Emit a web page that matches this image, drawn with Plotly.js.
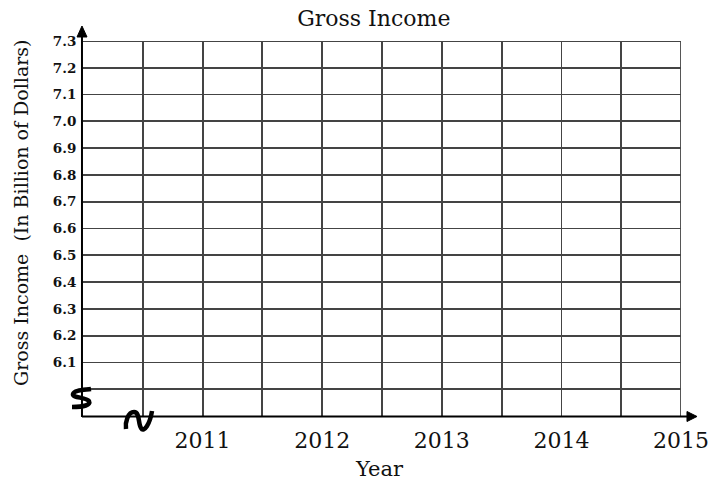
<!DOCTYPE html>
<html>
<head>
<meta charset="utf-8">
<script src="https://cdn.plot.ly/plotly-3.0.1.min.js"></script>
<style>html,body{margin:0;padding:0;background:#fff;}#chart{width:712px;height:485px;}</style>
</head>
<body>
<div id="chart"></div>
<script>
// ---- data ----
const yearStart = 2010;
const yearEnd = 2015;
const yearLabels = ['2011', '2012', '2013', '2014', '2015'];
const yearGridStep = 0.5;
const incomeMin = 5.9;
const incomeMax = 7.3;
const incomeGridStep = 0.1;
const incomeLabels = ['6.1', '6.2', '6.3', '6.4', '6.5', '6.6', '6.7', '6.8', '6.9', '7.0', '7.1', '7.2', '7.3'];

// ---- build tick arrays ----
const xVals = [], xText = [];
for (let i = 0; i <= Math.round((yearEnd - yearStart) / yearGridStep); i++) {
  const v = +(yearStart + i * yearGridStep).toFixed(2);
  xVals.push(v);
  const lbl = yearLabels.find(l => +l === v);
  xText.push(lbl ? lbl : '');
}
const yVals = [], yText = [];
for (let i = 1; i <= Math.round((incomeMax - incomeMin) / incomeGridStep); i++) {
  const v = +(incomeMin + i * incomeGridStep).toFixed(2);
  yVals.push(v);
  const lbl = incomeLabels.find(l => Math.abs(+l - v) < 1e-6);
  yText.push(lbl ? lbl : '');
}

const W = 712, H = 485, L = 83, R = 31, T = 41, B = 69;
const pw = W - L - R, ph = H - T - B;
function px(x) { return ((x - L) / pw).toFixed(4); }
function py(y) { return ((H - B - y) / ph).toFixed(4); }
function pathFromPixels(cmds) {
  return cmds.map(c => c[0] + (c.length > 1 ? ' ' + c.slice(1).reduce((a, v, i) => { a.push(i % 2 === 0 ? px(v) : py(v)); return a; }, []).join(',') : '')).join(' ');
}

const font = 'DejaVu Serif, Cambria, serif';
const gridColor = '#444';
const gridWidth = 1.8;
const textColor = '#111';

const shapes = [
  // top and right border gridlines (at range edges)
  {type: 'line', xref: 'paper', yref: 'y', x0: 0, x1: 1, y0: incomeMax, y1: incomeMax, line: {color: gridColor, width: gridWidth}},
  {type: 'line', xref: 'x', yref: 'paper', x0: yearEnd, x1: yearEnd, y0: 0, y1: 1, line: {color: gridColor, width: gridWidth}},
  // x axis with arrow
  {type: 'line', xref: 'paper', yref: 'paper', x0: px(82), y0: py(416.5), x1: px(690), y1: py(416.5), line: {color: '#000', width: 2}},
  {type: 'path', xref: 'paper', yref: 'paper', path: pathFromPixels([['M', 687, 411.5], ['L', 697, 416.5], ['L', 687, 421.5], ['Z']]), fillcolor: '#000', line: {color: '#000', width: 1}},
  // y axis with arrow
  {type: 'line', xref: 'paper', yref: 'paper', x0: px(82), y0: py(417), x1: px(82), y1: py(33), line: {color: '#000', width: 2}},
  {type: 'path', xref: 'paper', yref: 'paper', path: pathFromPixels([['M', 77, 37], ['L', 82, 26], ['L', 87, 37], ['Z']]), fillcolor: '#000', line: {color: '#000', width: 1}},
  // axis break squiggles
  {type: 'path', xref: 'paper', yref: 'paper', path: pathFromPixels([['M', 91, 389], ['C', 84, 390, 74, 390, 73, 394], ['C', 72, 398, 86, 397, 89, 401], ['C', 91, 405, 84, 407, 72, 407]]), line: {color: '#000', width: 4.5}},
  {type: 'path', xref: 'paper', yref: 'paper', path: pathFromPixels([['M', 126, 429], ['C', 125, 422, 128, 412, 134, 412], ['C', 140, 412, 138, 424, 141, 428], ['C', 144, 433, 150, 424, 152, 411]]), line: {color: '#000', width: 4.5}}
];

const layout = {
  width: W, height: H,
  margin: {l: L, r: R, t: T, b: B, pad: 0},
  paper_bgcolor: '#fff', plot_bgcolor: '#fff',
  showlegend: false,
  font: {family: font, color: textColor},
  title: {text: 'Gross Income', font: {family: font, size: 22, color: textColor}, x: 0.525, xanchor: 'center', y: 0.963, yanchor: 'middle'},
  xaxis: {
    range: [yearStart, yearEnd], tickmode: 'array', tickvals: xVals, ticktext: xText,
    showgrid: true, gridcolor: gridColor, gridwidth: gridWidth, zeroline: false, showline: false,
    ticks: 'outside', ticklen: 5, tickcolor: 'rgba(0,0,0,0)',
    tickfont: {family: font, size: 22, color: textColor}, fixedrange: true
  },
  yaxis: {
    range: [incomeMin, incomeMax], tickmode: 'array', tickvals: yVals, ticktext: yText,
    showgrid: true, gridcolor: gridColor, gridwidth: gridWidth, zeroline: false, showline: false,
    ticks: 'outside', ticklen: 3, tickcolor: 'rgba(0,0,0,0)',
    tickfont: {family: font, size: 13.5, color: textColor, weight: 'bold'}, fixedrange: true
  },
  shapes: shapes,
  annotations: [
    {text: 'Year', xref: 'paper', yref: 'paper', x: px(379), y: py(469), xanchor: 'center', yanchor: 'middle', showarrow: false, font: {family: font, size: 21, color: textColor}},
    {text: 'Gross Income  (In Billion of Dollars)', xref: 'paper', yref: 'paper', x: px(21), y: py(212), xanchor: 'center', yanchor: 'middle', textangle: -90, showarrow: false, font: {family: font, size: 19, color: textColor}}
  ]
};

const traces = [{x: [yearStart], y: [incomeMin], type: 'scatter', mode: 'markers', marker: {opacity: 0}, hoverinfo: 'skip'}];

Plotly.newPlot('chart', traces, layout, {displayModeBar: false, staticPlot: true});
</script>
</body>
</html>
